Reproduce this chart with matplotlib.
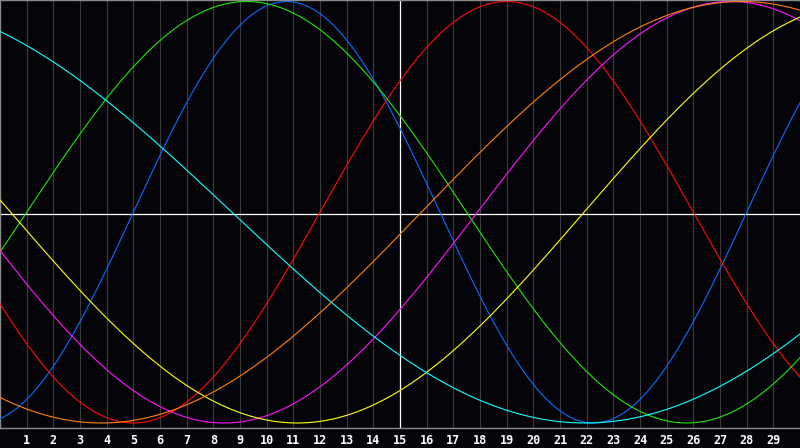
import numpy as np
import matplotlib
matplotlib.use('Agg')
import matplotlib.pyplot as plt

# biorhythm cycles: cycle length (days) and the day on
# which each cycle crosses the centre line going upward
cycle_names = ['physical', 'emotional', 'intellectual', 'intuitive',
               'aesthetic', 'awareness', 'spiritual']
cycle_periods = [23, 28, 33, 38, 43, 48, 53]
cycle_upcross = [5.0, 12.0, 1.0, 17.9, 21.9, 15.8, 35.2]
cycle_colors = ['#0a6cff', '#ff0a0a', '#1ee60a', '#ff14ff',
                '#ffff14', '#ff8214', '#14ffff']

day_labels = list(range(1, 30))
n_days = 30

BG = '#050509'

fig = plt.figure(figsize=(8, 4.48), dpi=100, facecolor=BG)
ax = fig.add_axes([0, 20 / 448, 1, 428 / 448])
ax.set_facecolor(BG)

# y range so that +1 sits ~1.5px below the top and -1 ~5px above the bottom
ppu = 210.75
y_top = 1 + 1.5 / ppu
y_bot = -1 - 5 / ppu
ax.set_xlim(0, n_days)
ax.set_ylim(y_bot, y_top)

for d in day_labels:
    if d == 15:
        continue
    ax.axvline(d, color='#3c3c3c', lw=0.8, zorder=1)

ax.axvline(15, color='white', lw=0.9, zorder=2)
ax.axhline((y_top + y_bot) / 2, color='white', lw=0.9, zorder=2)

t = np.linspace(0, n_days, 1200)
for p, t0, c in zip(cycle_periods, cycle_upcross, cycle_colors):
    ax.plot(t, np.sin(2 * np.pi * (t - t0) / p), color=c, lw=0.8, zorder=3)

ax.set_xticks(day_labels)
ax.set_xticklabels([str(d) for d in day_labels], color='white',
                   fontsize=8.5, fontweight='bold', family='DejaVu Sans Mono')
ax.tick_params(axis='x', length=0, pad=4)
ax.set_yticks([])

for side in ['top', 'left', 'bottom']:
    ax.spines[side].set_color('#8a8a8a')
    ax.spines[side].set_linewidth(1.0)
ax.spines['right'].set_visible(False)

fig.savefig('out.png', dpi=100, facecolor=BG)
